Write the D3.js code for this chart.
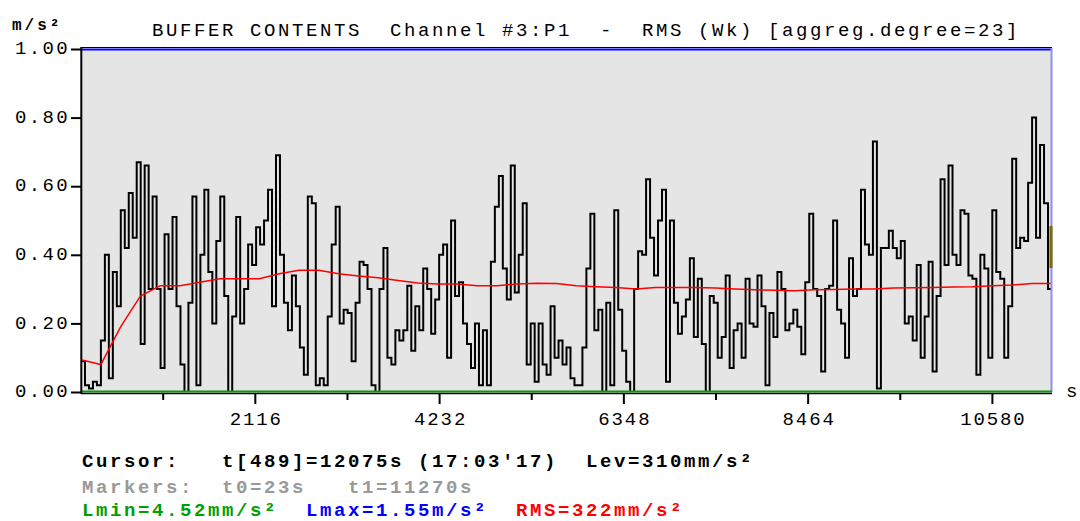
<!DOCTYPE html>
<html>
<head>
<meta charset="utf-8">
<script src="https://cdn.jsdelivr.net/npm/d3@7"></script>
<style>
  body { margin: 0; background: #fff; }
  svg text { font-family: "Liberation Mono", monospace; white-space: pre; }
</style>
</head>
<body>
<svg width="1080" height="521"></svg>
<script>
// buffer contents, RMS (Wk), one value per ~2 aggregated samples
const levels = [
  0.09,0.02,0.01,0.03,0.02,0.15,0.40,0.04,0.35,0.25,
  0.53,0.42,0.58,0.45,0.67,0.14,0.66,0.30,0.57,0.30,
  0.07,0.46,0.30,0.51,0.25,0.08,0.00,0.26,0.57,0.02,
  0.40,0.59,0.35,0.20,0.44,0.57,0.28,0.00,0.22,0.51,
  0.20,0.30,0.43,0.37,0.48,0.43,0.50,0.59,0.25,0.69,
  0.40,0.26,0.18,0.34,0.25,0.13,0.05,0.57,0.55,0.02,
  0.04,0.02,0.22,0.43,0.54,0.20,0.24,0.23,0.09,0.26,
  0.38,0.37,0.30,0.02,0.00,0.30,0.42,0.10,0.08,0.18,
  0.15,0.18,0.31,0.12,0.25,0.18,0.36,0.30,0.17,0.27,
  0.40,0.43,0.10,0.50,0.28,0.32,0.20,0.14,0.07,0.20,
  0.02,0.18,0.02,0.38,0.54,0.63,0.36,0.27,0.66,0.29,
  0.40,0.55,0.08,0.20,0.03,0.20,0.08,0.05,0.25,0.10,
  0.15,0.08,0.13,0.04,0.02,0.02,0.13,0.36,0.52,0.18,
  0.24,0.00,0.26,0.02,0.53,0.24,0.12,0.03,0.00,0.30,
  0.41,0.40,0.62,0.45,0.34,0.50,0.59,0.03,0.50,0.26,
  0.17,0.22,0.27,0.39,0.16,0.33,0.14,0.00,0.28,0.26,
  0.10,0.16,0.34,0.07,0.18,0.20,0.10,0.33,0.20,0.19,
  0.34,0.25,0.02,0.23,0.16,0.35,0.30,0.18,0.20,0.24,
  0.19,0.11,0.32,0.52,0.30,0.28,0.06,0.30,0.31,0.50,
  0.24,0.20,0.10,0.39,0.28,0.30,0.59,0.43,0.40,0.73,
  0.01,0.42,0.42,0.47,0.42,0.39,0.44,0.20,0.22,0.15,
  0.37,0.10,0.22,0.38,0.06,0.28,0.62,0.37,0.66,0.40,
  0.37,0.53,0.52,0.34,0.33,0.05,0.40,0.36,0.10,0.53,
  0.35,0.33,0.10,0.25,0.68,0.42,0.45,0.44,0.61,0.80,
  0.45,0.72,0.55,0.30
];

// running RMS (red)
const rms = [
  0.094,0.080,0.190,0.280,0.310,0.310,0.320,0.330,0.330,0.330,
  0.345,0.355,0.355,0.345,0.338,0.333,0.325,0.318,0.315,0.315,
  0.310,0.310,0.315,0.317,0.316,0.310,0.307,0.305,0.300,0.305,
  0.305,0.305,0.303,0.300,0.298,0.297,0.295,0.298,0.299,0.300,
  0.300,0.303,0.304,0.305,0.306,0.307,0.310,0.312,0.316,0.316
];

const tStart = 120, tEnd = 11270;
const yTicks = [0, 0.2, 0.4, 0.6, 0.8, 1.0];
const xMajor = [2116, 4232, 6348, 8464, 10580];
const xMinor = [1058, 3174, 5290, 7406, 9522];
const lmin = 0.00452;

const svg = d3.select('svg');
const x = d3.scaleLinear().domain([tStart, tEnd]).range([81, 1052]);
const y = d3.scaleLinear().domain([0, 1]).range([392, 49]);

// plot background
svg.append('rect')
  .attr('x', x(tStart) + 1).attr('y', y(1))
  .attr('width', x(tEnd) - x(tStart) - 1).attr('height', y(0) - y(1))
  .attr('fill', '#e5e5e5');

svg.append('clipPath').attr('id', 'plot')
  .append('rect')
  .attr('x', x(tStart) + 1).attr('y', y(1))
  .attr('width', x(tEnd) - x(tStart) - 1).attr('height', y(0) - y(1));

// black step line
const dt = (tEnd - tStart) / levels.length;
const pts = levels.map((v, i) => [tStart + i * dt, v]);
pts.push([tEnd, levels[levels.length - 1]]);
const stepLine = d3.line().x(d => x(d[0])).y(d => y(d[1])).curve(d3.curveStepAfter);
svg.append('path')
  .attr('clip-path', 'url(#plot)')
  .attr('d', stepLine(pts))
  .attr('fill', 'none').attr('stroke', '#000').attr('stroke-width', 2);

// red RMS line
const dr = (tEnd - tStart) / (rms.length - 1);
const rmsLine = d3.line().x((d, i) => x(tStart + i * dr)).y(d => y(d));
svg.append('path')
  .attr('clip-path', 'url(#plot)')
  .attr('d', rmsLine(rms))
  .attr('fill', 'none').attr('stroke', '#ff0000').attr('stroke-width', 1.5);

// frame
svg.append('line').attr('x1', 81).attr('x2', 1052).attr('y1', 47.5).attr('y2', 47.5)
  .attr('stroke', '#000').attr('stroke-width', 1);
svg.append('line').attr('x1', 82).attr('x2', 1052).attr('y1', y(1) + 0.5).attr('y2', y(1) + 0.5)
  .attr('stroke', '#0000ff').attr('stroke-width', 2);
svg.append('line').attr('x1', 1051.5).attr('x2', 1051.5).attr('y1', 48).attr('y2', 392)
  .attr('stroke', '#9090f0').attr('stroke-width', 2);
svg.append('rect').attr('x', 1049.5).attr('y', 226).attr('width', 3).attr('height', 42)
  .attr('fill', '#7a6e00');
svg.append('line').attr('x1', 82).attr('x2', 1052).attr('y1', y(lmin) + 1).attr('y2', y(lmin) + 1)
  .attr('stroke', '#00a000').attr('stroke-width', 2);
svg.append('line').attr('x1', 81).attr('x2', 1052).attr('y1', 393.5).attr('y2', 393.5)
  .attr('stroke', '#000').attr('stroke-width', 1.5);
svg.append('line').attr('x1', 81.3).attr('x2', 81.3).attr('y1', 47).attr('y2', 394)
  .attr('stroke', '#000').attr('stroke-width', 2);

// y axis
svg.append('g')
  .attr('transform', 'translate(81,0)')
  .call(d3.axisLeft(y).tickValues(yTicks).tickSize(10).tickPadding(1).tickFormat(d3.format('.2f')))
  .call(g => g.select('.domain').remove())
  .call(g => g.selectAll('line').attr('stroke', '#000').attr('stroke-width', 2))
  .call(g => g.selectAll('text')
    .attr('dy', '0.25em')
    .attr('fill', '#000')
    .style('font-family', '"Liberation Mono", monospace')
    .style('font-size', '19px')
    .style('letter-spacing', '2.35px'));

// x axis: minor and major ticks
svg.append('g')
  .attr('transform', 'translate(0,394)')
  .call(d3.axisBottom(x).tickValues(xMinor).tickSize(6).tickFormat(''))
  .call(g => g.select('.domain').remove())
  .call(g => g.selectAll('line').attr('stroke', '#000').attr('stroke-width', 2));

svg.append('g')
  .attr('transform', 'translate(0,394)')
  .call(d3.axisBottom(x).tickValues(xMajor).tickSize(10).tickPadding(8).tickFormat(d3.format('d')))
  .call(g => g.select('.domain').remove())
  .call(g => g.selectAll('line').attr('stroke', '#000').attr('stroke-width', 2))
  .call(g => g.selectAll('text')
    .attr('dx', 1)
    .attr('fill', '#000')
    .style('font-family', '"Liberation Mono", monospace')
    .style('font-size', '19px')
    .style('letter-spacing', '1.9px'));

// labels
svg.append('text').attr('x', 12).attr('y', 30)
  .style('font-size', '16px').style('font-weight', 'bold').style('letter-spacing', '3px')
  .text('m/s²');
svg.append('text').attr('x', 1066).attr('y', 397)
  .style('font-size', '19px')
  .text('s');
svg.append('text').attr('x', 152).attr('y', 36)
  .style('font-size', '19px').style('letter-spacing', '2.6px')
  .text('BUFFER CONTENTS  Channel #3:P1  -  RMS (Wk) [aggreg.degree=23]');

// status lines
const status = svg.append('g')
  .style('font-size', '19px').style('font-weight', 'bold').style('letter-spacing', '2.6px');
status.append('text').attr('x', 82).attr('y', 467).attr('fill', '#000')
  .text("Cursor:   t[489]=12075s (17:03'17)  Lev=310mm/s²");
status.append('text').attr('x', 82).attr('y', 493).attr('fill', '#999')
  .text('Markers:  t0=23s   t1=11270s');
const l3 = status.append('text').attr('x', 82).attr('y', 516);
l3.append('tspan').attr('fill', '#00a000').text('Lmin=4.52mm/s²');
l3.append('tspan').text('  ');
l3.append('tspan').attr('fill', '#0000ff').text('Lmax=1.55m/s²');
l3.append('tspan').text('  ');
l3.append('tspan').attr('fill', '#ff0000').text('RMS=322mm/s²');
</script>
</body>
</html>
